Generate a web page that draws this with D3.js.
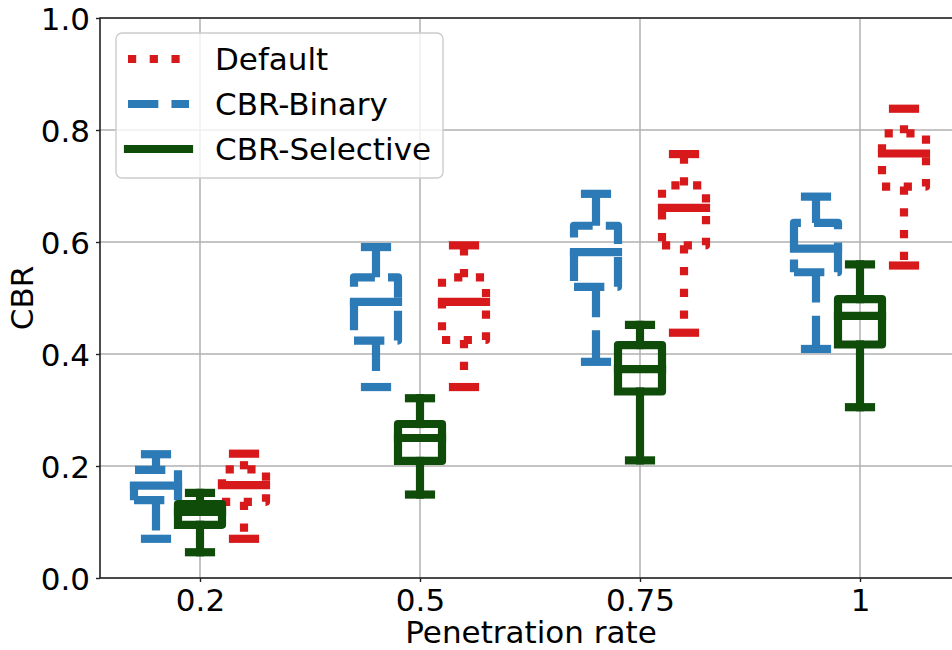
<!DOCTYPE html>
<html>
<head>
<meta charset="utf-8">
<script src="https://cdn.jsdelivr.net/npm/d3@7"></script>
<style>
  html, body { margin: 0; padding: 0; background: #fff; }
  svg { display: block; font-family: "DejaVu Sans", sans-serif; }
</style>
</head>
<body>
<svg id="chart" width="952" height="650"></svg>
<script>
// ---------------- DATA ----------------
const categories = ["0.2", "0.5", "0.75", "1"];
const seriesNames = ["Default", "CBR-Binary", "CBR-Selective"];
const yTicks = [0.0, 0.2, 0.4, 0.6, 0.8, 1.0];

// Default (red, dotted)
const defaultWhisHi = [0.222, 0.594, 0.757, 0.838];
const defaultQ3     = [0.194, 0.537, 0.701, 0.794];
const defaultMed    = [0.166, 0.493, 0.661, 0.758];
const defaultQ1     = [0.136, 0.425, 0.594, 0.699];
const defaultWhisLo = [0.070, 0.341, 0.438, 0.558];

// CBR-Binary (blue, dashed)
const binaryWhisHi = [0.221, 0.591, 0.686, 0.681];
const binaryQ3     = [0.193, 0.537, 0.629, 0.634];
const binaryMed    = [0.165, 0.493, 0.582, 0.588];
const binaryQ1     = [0.139, 0.424, 0.520, 0.546];
const binaryWhisLo = [0.070, 0.341, 0.386, 0.409];

// CBR-Selective (green, solid)
const selectiveWhisHi = [0.152, 0.321, 0.452, 0.560];
const selectiveQ3     = [0.132, 0.275, 0.416, 0.498];
const selectiveMed    = [0.118, 0.250, 0.373, 0.468];
const selectiveQ1     = [0.095, 0.209, 0.333, 0.417];
const selectiveWhisLo = [0.046, 0.149, 0.210, 0.305];

// ---------------- STYLE ----------------
const LW = 8.2;
const FS = 31;
const styles = {
  "Default":       { color: "#d7191c", dash: [1 * LW, 1.65 * LW], offset: 0.2 },
  "CBR-Binary":    { color: "#2c7bb6", dash: [3.7 * LW, 1.6 * LW], offset: -0.2 },
  "CBR-Selective": { color: "#0f4c0a", dash: null, offset: 0.0 }
};
const boxWidth = 0.2;   // in position units
const capWidth = 0.1;

const series = [
  { name: "Default", whishi: defaultWhisHi, q3: defaultQ3, med: defaultMed, q1: defaultQ1, whislo: defaultWhisLo },
  { name: "CBR-Binary", whishi: binaryWhisHi, q3: binaryQ3, med: binaryMed, q1: binaryQ1, whislo: binaryWhisLo },
  { name: "CBR-Selective", whishi: selectiveWhisHi, q3: selectiveQ3, med: selectiveMed, q1: selectiveQ1, whislo: selectiveWhisLo }
];

// ---------------- LAYOUT ----------------
const svg = d3.select("#chart");
const plotLeft = 100, plotRight = 962, plotTop = 18, plotBottom = 578;

const xBase = d3.scaleLinear().domain([1, 4]).range([200, 860]);
const x = d3.scaleLinear()
  .domain([xBase.invert(plotLeft), xBase.invert(plotRight)])
  .range([plotLeft, plotRight]);
const y = d3.scaleLinear().domain([0, 1]).range([plotBottom, plotTop]);
const positions = categories.map((c, i) => i + 1);

// grid
const grid = svg.append("g");
grid.selectAll("line.gx").data(positions).enter().append("line")
  .attr("x1", d => x(d)).attr("x2", d => x(d))
  .attr("y1", plotTop).attr("y2", plotBottom)
  .attr("stroke", "#b0b0b0").attr("stroke-width", 1.5);
grid.selectAll("line.gy").data(yTicks).enter().append("line")
  .attr("x1", plotLeft).attr("x2", plotRight)
  .attr("y1", d => y(d)).attr("y2", d => y(d))
  .attr("stroke", "#b0b0b0").attr("stroke-width", 1.5);

// boxes
const drawOrder = ["Default", "CBR-Binary", "CBR-Selective"];
const marks = svg.append("g");
drawOrder.forEach(name => {
  const s = series.find(d => d.name === name);
  const st = styles[name];
  const g = marks.append("g");
  positions.forEach((p, i) => {
    const pos = p + st.offset;
    const bl = x(pos - boxWidth / 2), br = x(pos + boxWidth / 2);
    const cl = x(pos - capWidth / 2), cr = x(pos + capWidth / 2);
    const cx = x(pos);
    const dashAttr = st.dash ? st.dash.join(",") : null;
    const cap = st.dash ? "butt" : "square";
    // box path (matplotlib order)
    const boxPts = [[bl, y(s.q1[i])], [br, y(s.q1[i])], [br, y(s.q3[i])], [bl, y(s.q3[i])], [bl, y(s.q1[i])]];
    g.append("path")
      .attr("d", d3.line()(boxPts))
      .attr("fill", "none").attr("stroke", st.color).attr("stroke-width", LW)
      .attr("stroke-linejoin", "round").attr("stroke-linecap", cap)
      .attr("stroke-dasharray", dashAttr);
    // whiskers
    [[s.q1[i], s.whislo[i]], [s.q3[i], s.whishi[i]]].forEach(w => {
      g.append("path")
        .attr("d", d3.line()([[cx, y(w[0])], [cx, y(w[1])]]))
        .attr("fill", "none").attr("stroke", st.color).attr("stroke-width", LW)
        .attr("stroke-linecap", cap)
        .attr("stroke-dasharray", dashAttr);
    });
    // caps (solid)
    [s.whislo[i], s.whishi[i]].forEach(v => {
      g.append("line")
        .attr("x1", cl).attr("x2", cr).attr("y1", y(v)).attr("y2", y(v))
        .attr("stroke", st.color).attr("stroke-width", LW).attr("stroke-linecap", "square");
    });
    // median (solid)
    g.append("line")
      .attr("x1", bl).attr("x2", br).attr("y1", y(s.med[i])).attr("y2", y(s.med[i]))
      .attr("stroke", st.color).attr("stroke-width", LW).attr("stroke-linecap", "square");
  });
});

// spines
svg.append("path")
  .attr("d", `M${plotLeft},${plotTop}H${plotRight}V${plotBottom}H${plotLeft}Z`)
  .attr("fill", "none").attr("stroke", "#222").attr("stroke-width", 1.6);

// axes
const yAxis = d3.axisLeft(y).tickValues(yTicks).tickFormat(d3.format(".1f")).tickSize(4).tickPadding(6);
const yg = svg.append("g").attr("transform", `translate(${plotLeft},0)`).call(yAxis);
const xAxis = d3.axisBottom(x).tickValues(positions).tickFormat((d, i) => categories[i]).tickSize(4).tickPadding(7);
const xg = svg.append("g").attr("transform", `translate(0,${plotBottom})`).call(xAxis);
[yg, xg].forEach(g => {
  g.select(".domain").remove();
  g.selectAll(".tick line").attr("stroke", "#222").attr("stroke-width", 1.4);
  g.selectAll(".tick text").attr("font-size", FS).attr("font-family", "DejaVu Sans").attr("fill", "#000");
});
yg.selectAll(".tick text").attr("dy", "0.36em");

// axis labels
svg.append("text").attr("x", (plotLeft + plotRight) / 2).attr("y", 643)
  .attr("text-anchor", "middle").attr("font-size", FS).text("Penetration rate");
svg.append("text").attr("transform", `translate(33,${(plotTop + plotBottom) / 2}) rotate(-90)`)
  .attr("text-anchor", "middle").attr("font-size", FS).text("CBR");

// legend
const lg = svg.append("g");
lg.append("rect").attr("x", 116).attr("y", 33).attr("width", 327).attr("height", 145)
  .attr("rx", 6).attr("fill", "#fff").attr("fill-opacity", 0.8)
  .attr("stroke", "#cccccc").attr("stroke-width", 1.4);
seriesNames.forEach((name, i) => {
  const st = styles[name];
  const cy = 59 + i * 45;
  lg.append("line").attr("x1", 128).attr("x2", 189).attr("y1", cy).attr("y2", cy)
    .attr("stroke", st.color).attr("stroke-width", LW)
    .attr("stroke-linecap", st.dash ? "butt" : "square")
    .attr("stroke-dasharray", st.dash ? st.dash.join(",") : null);
  lg.append("text").attr("x", 215).attr("y", cy + 11).attr("font-size", FS).text(name);
});
</script>
</body>
</html>
